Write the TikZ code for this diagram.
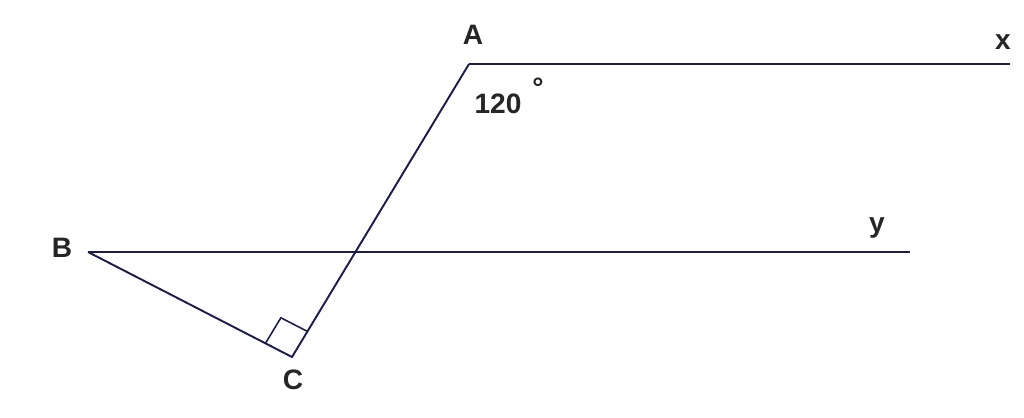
\documentclass[tikz,border=0pt]{standalone}
\usepackage{fontspec}
\setmainfont{Liberation Sans}
\usetikzlibrary{calc}
\definecolor{linenavy}{RGB}{28,28,78}
\tikzset{
  seg/.style={draw=linenavy, line width=1.1pt},
  lbl/.style={font=\fontsize{16}{18}\selectfont\bfseries, text=black!85, inner sep=0pt}
}
\begin{document}
\begin{tikzpicture}[x=0.02cm, y=-0.02cm]
    \useasboundingbox (0,0) rectangle (1024,418);
    \coordinate (A) at (469,64);
    \coordinate (X) at (1010,64);
    \coordinate (B) at (88,252);
    \coordinate (Y) at (910,252);
    \coordinate (C) at (292,357);
    \draw[seg] (A) -- (X);
    \draw[seg] (B) -- (Y);
    \draw[seg] (B) -- (C) -- (A);
    % right angle at C
    \draw[seg, line width=0.9pt] ($(C)!17pt!(A)$) coordinate (ca)
      -- ++($(C)!17pt!(B)-(C)$) coordinate (cab) -- ($(C)!17pt!(B)$);
    \node[lbl] (labA) at (473,35) {A};
    \node[lbl] (labX) at (1003,42) {x};
    \node[lbl] (labY) at (877,228) {y};
    \node[lbl] (labB) at (62,248) {B};
    \node[lbl] (labC) at (293,380) {C};
    \node[lbl] (ang) at (498,104) {120};
    \node[lbl] (deg) at (538,88) {°};
\end{tikzpicture}
\end{document}
